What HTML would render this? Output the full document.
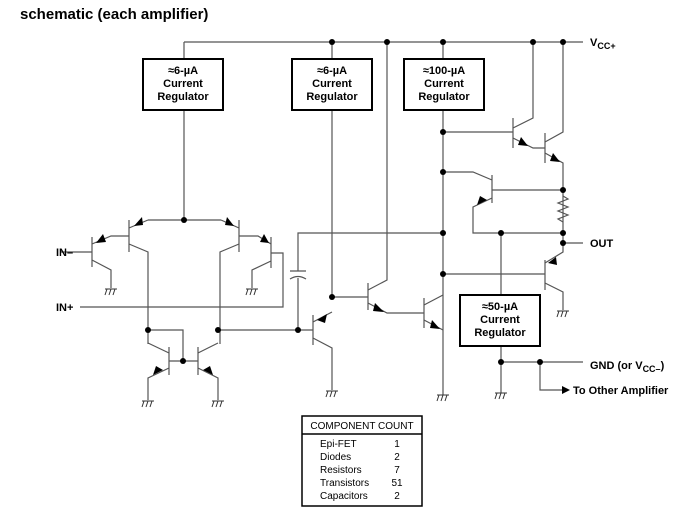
<!DOCTYPE html>
<html><head><meta charset="utf-8"><style>
body{margin:0;background:#fff;width:687px;height:524px;overflow:hidden}
svg{display:block}
text{font-family:"Liberation Sans",Arial,sans-serif;fill:#000}
</style></head><body>
<svg width="687" height="524" viewBox="0 0 687 524" xmlns="http://www.w3.org/2000/svg">
<defs>
<g id="gnd" stroke="#333" stroke-width="1" fill="none"><line x1="-6" y1="0" x2="6" y2="0"/><line x1="-4" y1="0" x2="-6" y2="6"/><line x1="0" y1="0" x2="-2" y2="6"/><line x1="4" y1="0" x2="2" y2="6"/></g>
</defs>
<text x="20" y="19" font-size="15" font-weight="bold">schematic (each amplifier)</text>
<g stroke="#555" stroke-width="1.2" fill="none">
<path d="M184 42H583"/>
<path d="M184 42V59M184 110V220"/>
<path d="M332 42V59M332 110V297"/>
<path d="M387 42V280L368 290"/>
<path d="M443 42V59M443 110V395"/>
<path d="M443 132H513M513 118V148M513 128L533 118V42M513 138L533 148H545M545 133V163M545 142L563 132V42M545 153L563 163V243"/>
<path d="M443 172H473L492 180M492 175V203M492 190H563M492 198L473 207V233H563"/>
<path d="M563 196l5 3l-10 4l10 4l-10 4l10 4l-10 4l5 3"/>
<path d="M563 243H583"/>
<path d="M563 243V252L545 263M545 260V290M443 274H545M545 283L563 292V310"/>
<path d="M501 233V295M501 346V393M501 362H583M540 362V390H562"/>
<path d="M443 233H298V271M298 278V330"/>
<path d="M290 271H306M290 279Q298 274 306 279"/>
<path d="M332 297H368M368 283V310M368 303L387 313H424M424 298V328M424 305L443 295M424 320L443 330"/>
<path d="M218 330H313M313 315V345M313 322L332 312M313 338L332 348V390"/>
<path d="M148 220H221M148 220L129 228M129 220V252M221 220L239 228M239 220V252"/>
<path d="M129 236H111L92 244M92 237V267M60 252H92M92 260L111 270V288"/>
<path d="M129 244L148 252V344M239 244L220 252V344"/>
<path d="M239 236H258L271 244M271 237V268M271 253H283V307H80M271 261L252 270V288"/>
<path d="M148 330H183V361M169 361H198M169 347V375M198 347V375M148 343L169 353M218 343L198 353M169 368L148 378V400M198 368L218 378V400"/>
</g>
<g fill="#000">
<circle cx="332" cy="42" r="3"/><circle cx="387" cy="42" r="3"/><circle cx="443" cy="42" r="3"/><circle cx="533" cy="42" r="3"/><circle cx="563" cy="42" r="3"/>
<circle cx="443" cy="132" r="3"/><circle cx="443" cy="172" r="3"/><circle cx="443" cy="233" r="3"/><circle cx="443" cy="274" r="3"/>
<circle cx="563" cy="190" r="3"/><circle cx="563" cy="233" r="3"/><circle cx="563" cy="243" r="3"/><circle cx="501" cy="233" r="3"/>
<circle cx="501" cy="362" r="3"/><circle cx="540" cy="362" r="3"/>
<circle cx="332" cy="297" r="3"/><circle cx="298" cy="330" r="3"/><circle cx="184" cy="220" r="3"/>
<circle cx="148" cy="330" r="3"/><circle cx="218" cy="330" r="3"/><circle cx="183" cy="361" r="3"/>
<polygon points="142,217 134,226 143,225"/>
<polygon points="227,217 234,226 225,225"/>
<polygon points="103,234 96,243 106,242"/>
<polygon points="264,234 269,243 260,242"/>
<polygon points="528,146 521,137 518,145"/>
<polygon points="560,162 553,153 550,161"/>
<polygon points="477,205 487,200 480,196"/>
<polygon points="556,257 548,263 557,265"/>
<polygon points="384,312 375,303 373,311"/>
<polygon points="440,329 432,320 430,328"/>
<polygon points="327,314 317,320 325,323"/>
<polygon points="153,375 163,370 156,366"/>
<polygon points="213,375 203,370 210,366"/>
<polygon points="570,390 562,386 562,394"/>
</g>
<use href="#gnd" x="111" y="289"/><use href="#gnd" x="252" y="289"/><use href="#gnd" x="148" y="401"/><use href="#gnd" x="218" y="401"/><use href="#gnd" x="332" y="391"/><use href="#gnd" x="443" y="395"/><use href="#gnd" x="501" y="393"/><use href="#gnd" x="563" y="311"/>
<g fill="#fff" stroke="#000" stroke-width="2">
<rect x="143" y="59" width="80" height="51"/><rect x="292" y="59" width="80" height="51"/><rect x="404" y="59" width="80" height="51"/><rect x="460" y="295" width="80" height="51"/>
</g>
<g font-size="11" font-weight="bold" text-anchor="middle">
<text x="183" y="74">≈6-µA</text><text x="183" y="87">Current</text><text x="183" y="100">Regulator</text>
<text x="332" y="74">≈6-µA</text><text x="332" y="87">Current</text><text x="332" y="100">Regulator</text>
<text x="444" y="74">≈100-µA</text><text x="444" y="87">Current</text><text x="444" y="100">Regulator</text>
<text x="500" y="310">≈50-µA</text><text x="500" y="323">Current</text><text x="500" y="336">Regulator</text>
</g>
<g font-size="11" font-weight="bold">
<text x="590" y="46">V<tspan font-size="9" dy="3">CC+</tspan></text>
<text x="590" y="247">OUT</text>
<text x="590" y="369">GND (or V<tspan font-size="9" dy="3">CC–</tspan><tspan dy="-3">)</tspan></text>
<text x="573" y="394">To Other Amplifier</text>
<text x="56" y="256">IN–</text>
<text x="56" y="311">IN+</text>
</g>
<rect x="302" y="416" width="120" height="90" fill="none" stroke="#000" stroke-width="1.5"/>
<line x1="302" y1="434" x2="422" y2="434" stroke="#000" stroke-width="1.5"/>
<g font-size="10">
<text x="362" y="429" text-anchor="middle">COMPONENT COUNT</text>
<text x="320" y="447">Epi-FET</text><text x="320" y="460">Diodes</text><text x="320" y="473">Resistors</text><text x="320" y="486">Transistors</text><text x="320" y="499">Capacitors</text>
<g text-anchor="middle"><text x="397" y="447">1</text><text x="397" y="460">2</text><text x="397" y="473">7</text><text x="397" y="486">51</text><text x="397" y="499">2</text></g>
</g>
</svg>
</body></html>
